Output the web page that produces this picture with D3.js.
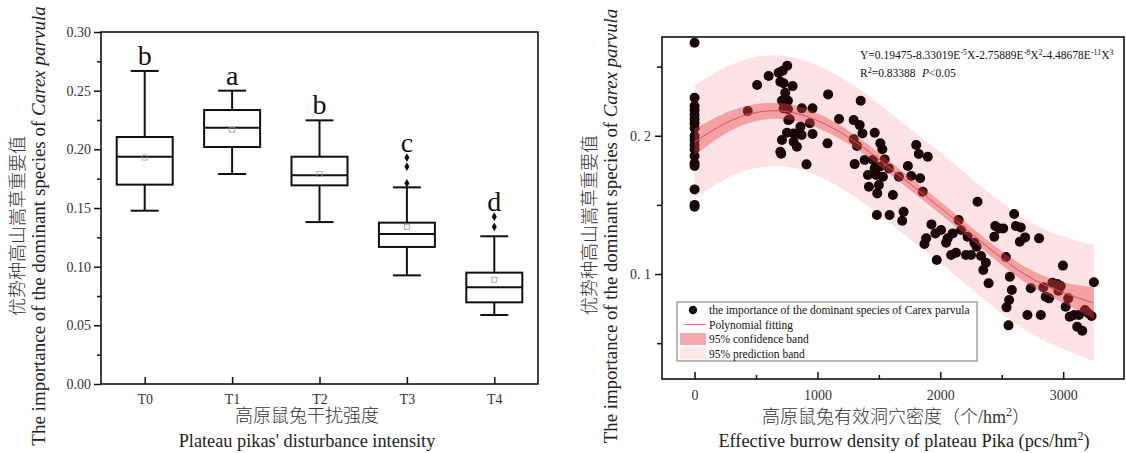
<!DOCTYPE html>
<html>
<head>
<meta charset="utf-8">
<script src="https://cdn.jsdelivr.net/npm/d3@7"></script>
<style>
body { margin: 0; background: #fff; }
svg text { font-family: "Liberation Serif", "Noto Sans CJK SC", serif; }
.cjk { font-family: "Liberation Serif", "Noto Sans CJK SC", serif; font-weight: 300; }
</style>
</head>
<body>
<script>
// ---- left panel: box plot by disturbance level ----
var categories = ["T0", "T1", "T2", "T3", "T4"];
var whiskerLow  = [0.1477, 0.1790, 0.1380, 0.0926, 0.0588];
var q1          = [0.1699, 0.2020, 0.1693, 0.1168, 0.0696];
var median      = [0.1937, 0.2185, 0.1780, 0.1278, 0.0824];
var q3          = [0.2105, 0.2335, 0.1937, 0.1375, 0.0949];
var whiskerHigh = [0.2668, 0.2500, 0.2247, 0.1676, 0.1259];
var means       = [0.1930, 0.2168, 0.1790, 0.1338, 0.0889];
var outliers    = [[], [], [], [0.1710, 0.1852, 0.1930], [0.1340, 0.1426]];
var sigLetters  = ["b", "a", "b", "c", "d"];
var leftTicks = [0, 0.05, 0.10, 0.15, 0.20, 0.25, 0.30];

// ---- right panel: scatter + polynomial fit ----
var burrowX = [0, 0, 0, 0, 0, 0, 0, 0, 0, 0, 0, 0, 0, 0, 0, 0, 0, 0,
  433, 509, 603, 684, 717, 754, 698, 725, 798, 738, 711, 760, 725, 760, 774, 763, 752, 806, 841, 711,
  806, 833, 698, 705, 873, 960, 1087, 1176, 938, 871, 960, 1082, 911, 1352, 1295, 1344, 1366, 1466,
  1295, 1322, 1512, 1528, 1804, 1825, 1898, 1303, 1384, 1452, 1547, 1466, 1506, 1582, 1411, 1479,
  1533, 1663, 1736, 1763, 1836, 1419, 1500, 1487, 1614, 1484, 1587, 1701, 1690, 1857, 2303, 2149,
  1928, 2006, 1960, 1885, 1871, 2060, 2047, 2101, 2169, 2222, 2277, 2295, 1971, 2088, 2128, 2209,
  2250, 2331, 2371, 2350, 2393, 2447, 2479, 2512, 2439, 2601, 2615, 2655, 2690, 2647, 2804, 2534,
  2566, 2582, 2560, 2539, 2555, 2709, 2818, 2736, 2839, 2998, 2912, 2952, 2980, 2961, 2858, 2885,
  3041, 3020, 3250, 3053, 3088, 3128, 3177, 3204, 3231, 3114, 3155, 862];
var importanceY = [0.2672, 0.2275, 0.2215, 0.2186, 0.2150, 0.2119, 0.2090, 0.2054, 0.1998, 0.1969,
  0.1933, 0.1902, 0.1853, 0.1800, 0.1781, 0.1612, 0.1500, 0.1487,
  0.2179, 0.2367, 0.2432, 0.2456, 0.2470, 0.2506, 0.2390, 0.2379, 0.2359, 0.2311, 0.2253, 0.2253,
  0.2198, 0.2191, 0.2119, 0.2113, 0.2022, 0.2017, 0.2017, 0.1969,
  0.1957, 0.1920, 0.1884, 0.1870, 0.2198, 0.2198, 0.2299, 0.2121, 0.2090, 0.2005, 0.2012, 0.1945,
  0.1793, 0.2253, 0.2113, 0.2077, 0.2017, 0.2022,
  0.1974, 0.1926, 0.1945, 0.1902, 0.1933, 0.1868, 0.1848, 0.1795, 0.1824, 0.1824, 0.1829, 0.1764,
  0.1776, 0.1764, 0.1716, 0.1716,
  0.1704, 0.1704, 0.1781, 0.1709, 0.1692, 0.1631, 0.1643, 0.1583, 0.1571, 0.1427, 0.1427, 0.1450,
  0.1385, 0.1595, 0.1523, 0.1390,
  0.1359, 0.1318, 0.1294, 0.1258, 0.1217, 0.1258, 0.1226, 0.1294, 0.1318, 0.1270, 0.1226, 0.1197,
  0.1101, 0.1137, 0.1154, 0.1137,
  0.1137, 0.1130, 0.1082, 0.1029, 0.0933, 0.1347, 0.1330, 0.1330, 0.1270, 0.1434, 0.1347, 0.1337,
  0.1265, 0.1234, 0.1258, 0.1123,
  0.0981, 0.0884, 0.0812, 0.0759, 0.0629, 0.0704, 0.0704, 0.0897, 0.0904, 0.1061, 0.0937, 0.0928,
  0.0913, 0.0879, 0.0836, 0.0824,
  0.0824, 0.0764, 0.0940, 0.0691, 0.0704, 0.0704, 0.0740, 0.0716, 0.0696, 0.0619, 0.0590, 0.2065];

var fitX      = [0, 250, 500, 750, 1000, 1250, 1500, 1750, 2000, 2250, 2500, 2750, 3000, 3250];
var fitY      = [0.1955, 0.2090, 0.2168, 0.2175, 0.2110, 0.1990, 0.1830, 0.1655, 0.1480, 0.1295, 0.1115, 0.0965, 0.0865, 0.0790];
var confUpper = [0.2050, 0.2165, 0.2230, 0.2231, 0.2162, 0.2038, 0.1875, 0.1700, 0.1525, 0.1341, 0.1165, 0.1023, 0.0940, 0.0905];
var confLower = [0.1860, 0.2015, 0.2106, 0.2119, 0.2058, 0.1942, 0.1785, 0.1610, 0.1435, 0.1249, 0.1065, 0.0907, 0.0790, 0.0675];
var predUpper = [0.2365, 0.2495, 0.2570, 0.2575, 0.2510, 0.2390, 0.2230, 0.2055, 0.1880, 0.1695, 0.1516, 0.1368, 0.1273, 0.1210];
var predLower = [0.1545, 0.1685, 0.1766, 0.1775, 0.1710, 0.1590, 0.1430, 0.1255, 0.1080, 0.0895, 0.0714, 0.0562, 0.0457, 0.0370];

var legendLabels = ["the importance of the dominant species of Carex parvula", "Polynomial fitting",
  "95% confidence band", "95% prediction band"];

var window_w = 1126;
var window_h = 453;

var svg = d3.select("body").append("svg")
    .attr("width", window_w)
    .attr("height", window_h);

function styleAxis(g) {
    g.select(".domain").remove();
    g.selectAll("line").attr("stroke", "#111").attr("stroke-width", 1.5);
    g.selectAll("text").attr("fill", "#333").style("font-size", "14px")
        .style("font-family", '"Liberation Serif", serif');
}

// ================= LEFT =================
function render_box() {
    var frame = {left: 101, top: 32, right: 538, bottom: 384};
    var xScale = d3.scalePoint().domain(categories).range([frame.left, frame.right]).padding(0.5);
    var yScale = d3.scaleLinear().domain([0, 0.30]).range([frame.bottom, frame.top]);

    var g = svg.append("g");

    // minor y ticks
    g.append("g").attr("transform", "translate(" + frame.left + ",0)")
        .call(d3.axisLeft(yScale).tickValues([0.025, 0.075, 0.125, 0.175, 0.225, 0.275]).tickSize(4).tickFormat(""))
        .call(styleAxis);
    g.append("g").attr("transform", "translate(" + frame.left + ",0)")
        .call(d3.axisLeft(yScale).tickValues(leftTicks).tickSize(7).tickPadding(3).tickFormat(d3.format(".2f")))
        .call(styleAxis);
    g.append("g").attr("transform", "translate(0," + frame.bottom + ")")
        .call(d3.axisBottom(xScale).tickSizeInner(-7).tickSizeOuter(0).tickPadding(10))
        .call(styleAxis);

    g.append("rect")
        .attr("x", frame.left).attr("y", frame.top)
        .attr("width", frame.right - frame.left).attr("height", frame.bottom - frame.top)
        .attr("fill", "none").attr("stroke", "#111").attr("stroke-width", 1.6);

    var boxW = 56, capW = 28;
    var boxes = g.selectAll(".box").data(categories).enter().append("g").attr("class", "box");

    boxes.append("line")
        .attr("x1", d => xScale(d)).attr("x2", d => xScale(d))
        .attr("y1", (d, i) => yScale(whiskerHigh[i])).attr("y2", (d, i) => yScale(whiskerLow[i]))
        .attr("stroke", "#111").attr("stroke-width", 2);
    boxes.append("line")
        .attr("x1", d => xScale(d) - capW / 2).attr("x2", d => xScale(d) + capW / 2)
        .attr("y1", (d, i) => yScale(whiskerHigh[i])).attr("y2", (d, i) => yScale(whiskerHigh[i]))
        .attr("stroke", "#111").attr("stroke-width", 2);
    boxes.append("line")
        .attr("x1", d => xScale(d) - capW / 2).attr("x2", d => xScale(d) + capW / 2)
        .attr("y1", (d, i) => yScale(whiskerLow[i])).attr("y2", (d, i) => yScale(whiskerLow[i]))
        .attr("stroke", "#111").attr("stroke-width", 2);
    boxes.append("rect")
        .attr("x", d => xScale(d) - boxW / 2)
        .attr("y", (d, i) => yScale(q3[i]))
        .attr("width", boxW)
        .attr("height", (d, i) => yScale(q1[i]) - yScale(q3[i]))
        .attr("fill", "#fff").attr("stroke", "#111").attr("stroke-width", 2);
    boxes.append("line")
        .attr("x1", d => xScale(d) - boxW / 2).attr("x2", d => xScale(d) + boxW / 2)
        .attr("y1", (d, i) => yScale(median[i])).attr("y2", (d, i) => yScale(median[i]))
        .attr("stroke", "#111").attr("stroke-width", 2);
    boxes.append("rect")
        .attr("x", d => xScale(d) - 2.5).attr("y", (d, i) => yScale(means[i]) - 2.5)
        .attr("width", 5).attr("height", 5)
        .attr("fill", "none").attr("stroke", "#999").attr("stroke-width", 0.8);

    boxes.each(function(d, i) {
        d3.select(this).selectAll(".out").data(outliers[i]).enter()
            .append("path")
            .attr("d", d3.symbol(d3.symbolDiamond, 22))
            .attr("transform", v => "translate(" + xScale(d) + "," + yScale(v) + ")")
            .attr("fill", "#111");
    });

    boxes.append("text")
        .attr("x", d => xScale(d))
        .attr("y", function(d, i) {
            var top = outliers[i].length ? d3.max(outliers[i]) : whiskerHigh[i];
            return yScale(top) - 6;
        })
        .attr("text-anchor", "middle")
        .style("font-size", "28px")
        .attr("fill", "#111")
        .text((d, i) => sigLetters[i]);

    // titles
    g.append("text").attr("class", "cjk")
        .attr("x", 307).attr("y", 422).attr("text-anchor", "middle")
        .style("font-size", "18px").attr("fill", "#333")
        .text("高原鼠兔干扰强度");
    g.append("text")
        .attr("x", 307).attr("y", 447).attr("text-anchor", "middle")
        .style("font-size", "18.3px").attr("fill", "#222")
        .text("Plateau pikas' disturbance intensity");

    g.append("text").attr("class", "cjk")
        .attr("transform", "translate(24,226) rotate(-90)")
        .attr("text-anchor", "middle")
        .style("font-size", "18px").attr("fill", "#333")
        .text("优势种高山嵩草重要值");
    var yt = g.append("text")
        .attr("transform", "translate(45,226) rotate(-90)")
        .attr("text-anchor", "middle")
        .style("font-size", "19px").attr("fill", "#222");
    yt.append("tspan").text("The importance of the dominant species of ");
    yt.append("tspan").style("font-style", "italic").text("Carex parvula");
}

// ================= RIGHT =================
function render_fit() {
    var frame = {left: 662, top: 37, right: 1124, bottom: 379};
    var xScale = d3.scaleLinear().domain([-265, 3495]).range([frame.left, frame.right]);
    var yScale = d3.scaleLinear().domain([0.0241, 0.2714]).range([frame.bottom, frame.top]);

    var g = svg.append("g");

    var band = function(up, lo) {
        return d3.area()
            .x((d, i) => xScale(fitX[i]))
            .y0((d, i) => yScale(lo[i]))
            .y1((d, i) => yScale(up[i]))
            .curve(d3.curveNatural);
    };

    g.append("path").datum(fitX)
        .attr("d", band(predUpper, predLower))
        .attr("fill", "#fde3e5");

    g.selectAll(".pt").data(burrowX).enter()
        .append("circle")
        .attr("class", "pt")
        .attr("cx", d => xScale(d))
        .attr("cy", (d, i) => yScale(importanceY[i]))
        .attr("r", 5)
        .attr("fill", "#1a0606");

    g.append("path").datum(fitX)
        .attr("d", band(confUpper, confLower))
        .attr("fill", "rgb(232,70,70)").attr("fill-opacity", 0.42);

    g.append("path").datum(fitX)
        .attr("d", d3.line().x(d => xScale(d)).y((d, i) => yScale(fitY[i])).curve(d3.curveNatural))
        .attr("fill", "none").attr("stroke", "#d9505e").attr("stroke-width", 1);

    // axes
    g.append("g").attr("transform", "translate(" + frame.left + ",0)")
        .call(d3.axisLeft(yScale).tickValues([0.05, 0.15, 0.25]).tickSize(5).tickFormat(""))
        .call(styleAxis);
    g.append("g").attr("transform", "translate(" + frame.left + ",0)")
        .call(d3.axisLeft(yScale).tickValues([0.1, 0.2]).tickSize(7).tickPadding(4)
            .tickFormat(d => d3.format(".1f")(d).replace(".", ". ")))
        .call(styleAxis);
    g.append("g").attr("transform", "translate(0," + frame.bottom + ")")
        .call(d3.axisBottom(xScale).tickValues([500, 1500, 2500]).tickSizeInner(-4).tickSizeOuter(0).tickFormat(""))
        .call(styleAxis);
    g.append("g").attr("transform", "translate(0," + frame.bottom + ")")
        .call(d3.axisBottom(xScale).tickValues([0, 1000, 2000, 3000]).tickSizeInner(-7).tickSizeOuter(0)
            .tickPadding(11).tickFormat(d3.format("d")))
        .call(styleAxis);

    g.append("rect")
        .attr("x", frame.left).attr("y", frame.top)
        .attr("width", frame.right - frame.left).attr("height", frame.bottom - frame.top)
        .attr("fill", "none").attr("stroke", "#111").attr("stroke-width", 1.6);

    // equation
    var eq = g.append("text").attr("x", 860).attr("y", 59)
        .style("font-size", "11.5px").attr("fill", "#111");
    var parts = [["Y=0.19475-8.33019E", 0], ["-5", 1], ["X-2.75889E", 0], ["-8", 1], ["X", 0], ["2", 1],
                 ["-4.48678E", 0], ["-11", 1], ["X", 0], ["3", 1]];
    var raised = false;
    parts.forEach(function(p) {
        var dy = 0;
        if (p[1] && !raised) { dy = -4; raised = true; }
        else if (!p[1] && raised) { dy = 4; raised = false; }
        eq.append("tspan").attr("dy", dy)
            .style("font-size", p[1] ? "8px" : "11.5px")
            .text(p[0]);
    });
    var r2 = g.append("text").attr("x", 860).attr("y", 77)
        .style("font-size", "11.5px").attr("fill", "#111");
    r2.append("tspan").text("R");
    r2.append("tspan").attr("dy", -4).style("font-size", "8px").text("2");
    r2.append("tspan").attr("dy", 4).text("=0.83388");
    r2.append("tspan").attr("x", 922).style("font-style", "italic").text("P");
    r2.append("tspan").text("<0.05");

    // legend
    var lg = g.append("g");
    lg.append("rect").attr("x", 677).attr("y", 302).attr("width", 300).attr("height", 59)
        .attr("fill", "#fff").attr("stroke", "#777").attr("stroke-width", 1);
    var rowY = [310, 324.5, 339, 353.5];
    lg.append("circle").attr("cx", 693).attr("cy", rowY[0]).attr("r", 4.2).attr("fill", "#111");
    lg.append("line").attr("x1", 684).attr("x2", 706).attr("y1", rowY[1]).attr("y2", rowY[1])
        .attr("stroke", "#e07080").attr("stroke-width", 1);
    lg.append("rect").attr("x", 680).attr("y", rowY[2] - 6).attr("width", 26).attr("height", 12)
        .attr("fill", "#f8a9aa");
    lg.append("rect").attr("x", 680).attr("y", rowY[3] - 6).attr("width", 26).attr("height", 12)
        .attr("fill", "#fde6e7");
    lg.selectAll(".lt").data(legendLabels).enter().append("text")
        .attr("x", 709).attr("y", (d, i) => rowY[i] + 4)
        .style("font-size", "11.5px").attr("fill", "#111")
        .text(d => d);

    // titles
    var xt = g.append("text").attr("class", "cjk")
        .attr("x", 896).attr("y", 423).attr("text-anchor", "middle")
        .style("font-size", "18px").attr("fill", "#333");
    xt.append("tspan").text("高原鼠兔有效洞穴密度（个/hm");
    xt.append("tspan").attr("dy", -7).style("font-size", "12px").text("2");
    xt.append("tspan").attr("dy", 7).text("）");
    var xe = g.append("text")
        .attr("x", 904).attr("y", 447).attr("text-anchor", "middle")
        .style("font-size", "18.3px").attr("fill", "#222");
    xe.append("tspan").text("Effective burrow density of plateau Pika (pcs/hm");
    xe.append("tspan").attr("dy", -7).style("font-size", "12px").text("2");
    xe.append("tspan").attr("dy", 7).text(")");

    g.append("text").attr("class", "cjk")
        .attr("transform", "translate(596,225) rotate(-90)")
        .attr("text-anchor", "middle")
        .style("font-size", "18px").attr("fill", "#333")
        .text("优势种高山嵩草重要值");
    var yt = g.append("text")
        .attr("transform", "translate(617,226) rotate(-90)")
        .attr("text-anchor", "middle")
        .style("font-size", "18.8px").attr("fill", "#222");
    yt.append("tspan").text("The importance of the dominant species of ");
    yt.append("tspan").style("font-style", "italic").text("Carex parvula");
}

render_box();
render_fit();
</script>
</body>
</html>
